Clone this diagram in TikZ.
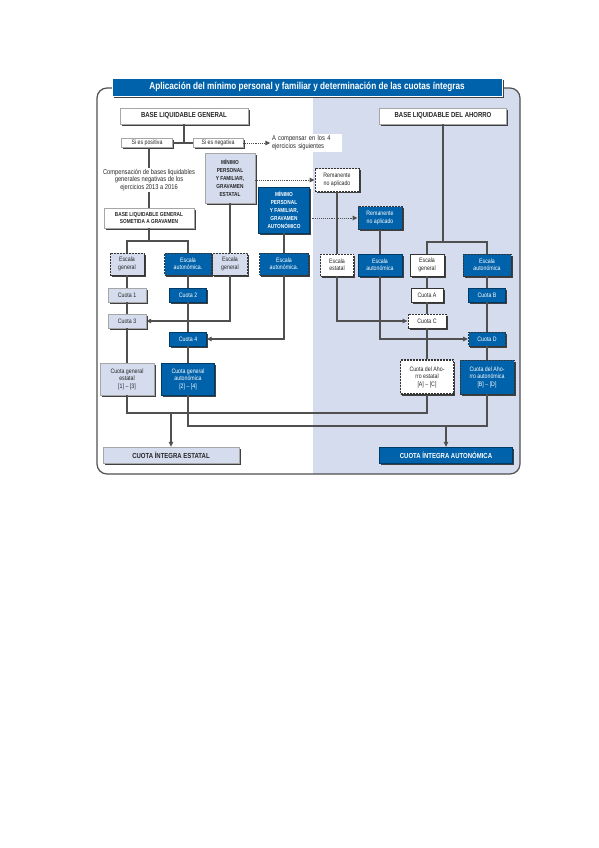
\documentclass[tikz,border=0pt]{standalone}
\usepackage{fontspec}
\setmainfont{Liberation Sans}[FakeStretch=0.82]
\usetikzlibrary{positioning, arrows.meta, shadows}

\definecolor{aeatblue}{RGB}{0,98,170}
\definecolor{palefill}{RGB}{212,220,238}
\definecolor{linegray}{RGB}{80,80,80}

\newcommand{\titlefont}{\fontsize{10}{12}\selectfont\bfseries}
\newcommand{\headfont}{\fontsize{7.3}{8}\selectfont\bfseries}
\newcommand{\capsfont}{\fontsize{5.8}{7.8}\selectfont\bfseries}
\newcommand{\boxfont}{\fontsize{6.4}{7.4}\selectfont}
\newcommand{\notefont}{\fontsize{7}{7.8}\selectfont}

\begin{document}
\begin{tikzpicture}[x=1pt, y=-1pt,
  boxshadow/.style={drop shadow={shadow xshift=1.6pt, shadow yshift=-1.6pt, fill=black!75, opacity=1}},
  box/.style={align=center, inner sep=1pt, font=\boxfont, text=black!85},
  palebox/.style={box, fill=palefill, draw=black!35, line width=0.3pt, boxshadow},
  bluebox/.style={box, fill=aeatblue, text=white, draw=aeatblue!60!black, line width=0.3pt, boxshadow},
  whitebox/.style={box, fill=white, draw=black!35, line width=0.3pt, boxshadow},
  headbox/.style={whitebox, font=\headfont, minimum height=16pt},
  dashbox/.style={draw=black!80, line width=0.9pt, dash pattern=on 2pt off 1pt},
  solidbox/.style={draw=black!80, line width=0.9pt},
  escala/.style={minimum height=22pt},
  cuota/.style={minimum height=14pt},
  line/.style={draw=linegray, line width=1.1pt},
  arrow/.style={line, -{Triangle[length=5pt, width=4.5pt]}},
  dotarrow/.style={draw=linegray, line width=0.9pt, densely dotted, -{Triangle[length=5pt, width=4.5pt]}}]

  \useasboundingbox (0,0) rectangle (599,848);

  % frame and savings side
  \begin{scope}
    \clip[rounded corners=10pt] (97,88) rectangle (520,474);
    \fill[palefill] (313,80) rectangle (525,480);
  \end{scope}
  \draw[linegray, line width=1.2pt, rounded corners=10pt] (97,88) rectangle (520,474);

  \node[fill=aeatblue, text=white, font=\titlefont, draw=white, line width=0.4pt,
    minimum width=390pt, minimum height=18pt, boxshadow] (title) at (307,87)
    {Aplicación del mínimo personal y familiar y determinación de las cuotas íntegras};

  % general tax base
  \node[headbox, minimum width=128pt] (blg) at (184,116) {BASE LIQUIDABLE GENERAL};
  \node[whitebox, minimum width=51pt, minimum height=9pt, boxshadow/.style={}] (pos) at (147,143) {Si es positiva};
  \node[whitebox, minimum width=50pt, minimum height=9pt, boxshadow/.style={}] (neg) at (218,143) {Si es negativa};
  \node[fill=white, align=left, text width=68pt, inner sep=1.5pt, font=\notefont, text=black!85] (comp4) at (306,143)
    {A compensar en los 4\\ejercicios siguientes};
  \draw[line] (blg.south) -- (blg.south |- pos.east);
  \draw[line] (pos) -- (neg);
  \draw[dotarrow] (neg) -- (comp4);

  \node[box, font=\notefont] (comptext) at (149,180)
    {Compensación de bases liquidables\\generales negativas de los\\ejercicios 2013 a 2016};
  \node[whitebox, font=\capsfont, minimum width=90pt, minimum height=20pt, inner sep=0.5pt] (blgs) at (149,218)
    {BASE LIQUIDABLE GENERAL\\SOMETIDA A GRAVAMEN};
  \draw[line] (comptext.north |- pos.south) -- (comptext.north);
  \draw[line] (comptext) -- (blgs);

  % minimum personal and family allowance
  \node[palebox, font=\capsfont, minimum width=50pt, minimum height=50pt] (mpfe) at (230,178)
    {MÍNIMO\\PERSONAL\\Y FAMILIAR,\\GRAVAMEN\\ESTATAL};
  \node[bluebox, font=\capsfont, minimum width=51pt, minimum height=46pt] (mpfa) at (284,210)
    {MÍNIMO\\PERSONAL\\Y FAMILIAR,\\GRAVAMEN\\AUTONÓMICO};
  \node[whitebox, dashbox, minimum width=44pt, minimum height=23pt] (rem1) at (337,180) {Remanente\\no aplicado};
  \node[bluebox, dashbox, minimum width=44pt, minimum height=23pt] (rem2) at (380,218) {Remanente\\no aplicado};
  \draw[dotarrow] (mpfe.east |- rem1.west) -- (rem1.west);
  \draw[dotarrow] (mpfa.east |- rem2.west) -- (rem2.west);

  % scales
  \node[palebox, dashbox, escala, minimum width=34pt] (escgen1) at (127,264) {Escala\\general};
  \node[bluebox, dashbox, escala, minimum width=47pt] (escaut1) at (188,264) {Escala\\autonómica.};
  \node[palebox, dashbox, escala, minimum width=35pt] (escgen2) at (230,264) {Escala\\general};
  \node[bluebox, dashbox, escala, minimum width=49pt] (escaut2) at (284,264) {Escala\\autonómica.};
  \node[whitebox, dashbox, escala, minimum width=33pt] (escest) at (337,265) {Escala\\estatal};
  \node[bluebox, escala, minimum width=44pt] (escaut3) at (380,265) {Escala\\autonómica};
  \node[whitebox, solidbox, escala, minimum width=34pt] (escgen3) at (427,265) {Escala\\general};
  \node[bluebox, dashbox, escala, minimum width=48pt] (escaut4) at (487,265) {Escala\\autonómica};

  \coordinate (split1) at (149,241);
  \draw[line] (blgs) -- (split1);
  \draw[line] (escgen1.north) |- (split1) -| (escaut1.north);
  \draw[line] (mpfe) -- (escgen2);
  \draw[line] (mpfa) -- (escaut2);
  \draw[line] (rem1) -- (escest);
  \draw[line] (rem2) -- (escaut3);

  \node[headbox, minimum width=127pt] (bla) at (443,116) {BASE LIQUIDABLE DEL AHORRO};
  \coordinate (split2) at (443,242);
  \draw[line] (bla) -- (split2);
  \draw[line] (escgen3.north) |- (split2) -| (escaut4.north);

  % quotas
  \node[palebox, cuota, minimum width=38pt] (cuota1) at (127,295) {Cuota 1};
  \node[bluebox, cuota, minimum width=37pt] (cuota2) at (188,295) {Cuota 2};
  \node[palebox, cuota, minimum width=38pt] (cuota3) at (127,321) {Cuota 3};
  \node[bluebox, cuota, minimum width=37pt] (cuota4) at (188,339) {Cuota 4};
  \node[whitebox, solidbox, cuota, minimum width=32pt] (cuotaA) at (427,295) {Cuota A};
  \node[bluebox, cuota, minimum width=37pt] (cuotaB) at (487,295) {Cuota B};
  \node[whitebox, dashbox, cuota, minimum width=38pt] (cuotaC) at (427,321) {Cuota C};
  \node[bluebox, dashbox, cuota, minimum width=37pt] (cuotaD) at (487,339) {Cuota D};

  \node[palebox, minimum width=54pt, minimum height=32pt] (cgest) at (127,379) {Cuota general\\estatal\\{[1] -- [3]}};
  \node[bluebox, minimum width=53pt, minimum height=32pt] (cgaut) at (188,379) {Cuota general\\autonómica\\{[2] -- [4]}};
  \node[whitebox, dashbox, line width=1.2pt, minimum width=53pt, minimum height=34pt] (cae) at (427,377) {Cuota del Aho-\\rro estatal\\{[A] -- [C]}};
  \node[bluebox, dashbox, minimum width=54pt, minimum height=34pt] (caa) at (487,377) {Cuota del Aho-\\rro autonómica\\{[B] -- [D]}};

  \draw[line] (escgen1) -- (cuota1);
  \draw[line] (cuota1) -- (cuota3);
  \draw[line] (cuota3) -- (cgest);
  \draw[line] (escaut1) -- (cuota2);
  \draw[line] (cuota2) -- (cuota4);
  \draw[line] (cuota4) -- (cgaut);
  \draw[arrow] (escgen2.south) |- (cuota3.east);
  \draw[arrow] (escaut2.south) |- (cuota4.east);

  \draw[line] (escgen3) -- (cuotaA);
  \draw[line] (cuotaA) -- (cuotaC);
  \draw[line] (cuotaC) -- (cae);
  \draw[line] (escaut4) -- (cuotaB);
  \draw[line] (cuotaB) -- (cuotaD);
  \draw[line] (cuotaD) -- (caa);
  \draw[arrow] (escest.south) |- (cuotaC.west);
  \draw[arrow] (escaut3.south) |- (cuotaD.west);

  % full quotas
  \node[palebox, font=\headfont, minimum width=136pt, minimum height=16pt] (cie) at (171,455) {CUOTA ÍNTEGRA ESTATAL};
  \node[bluebox, font=\headfont, minimum width=133pt, minimum height=16pt] (cia) at (446,455) {CUOTA ÍNTEGRA AUTONÓMICA};

  \coordinate (jest) at (171,413);
  \coordinate (jaut) at (446,426);
  \draw[line] (cgest.south) |- (jest) -| (cae.south);
  \draw[line] (cgaut.south) |- (jaut) -| (caa.south);
  \draw[arrow] (jest) -- (cie);
  \draw[arrow] (jaut) -- (cia);
\end{tikzpicture}
\end{document}
